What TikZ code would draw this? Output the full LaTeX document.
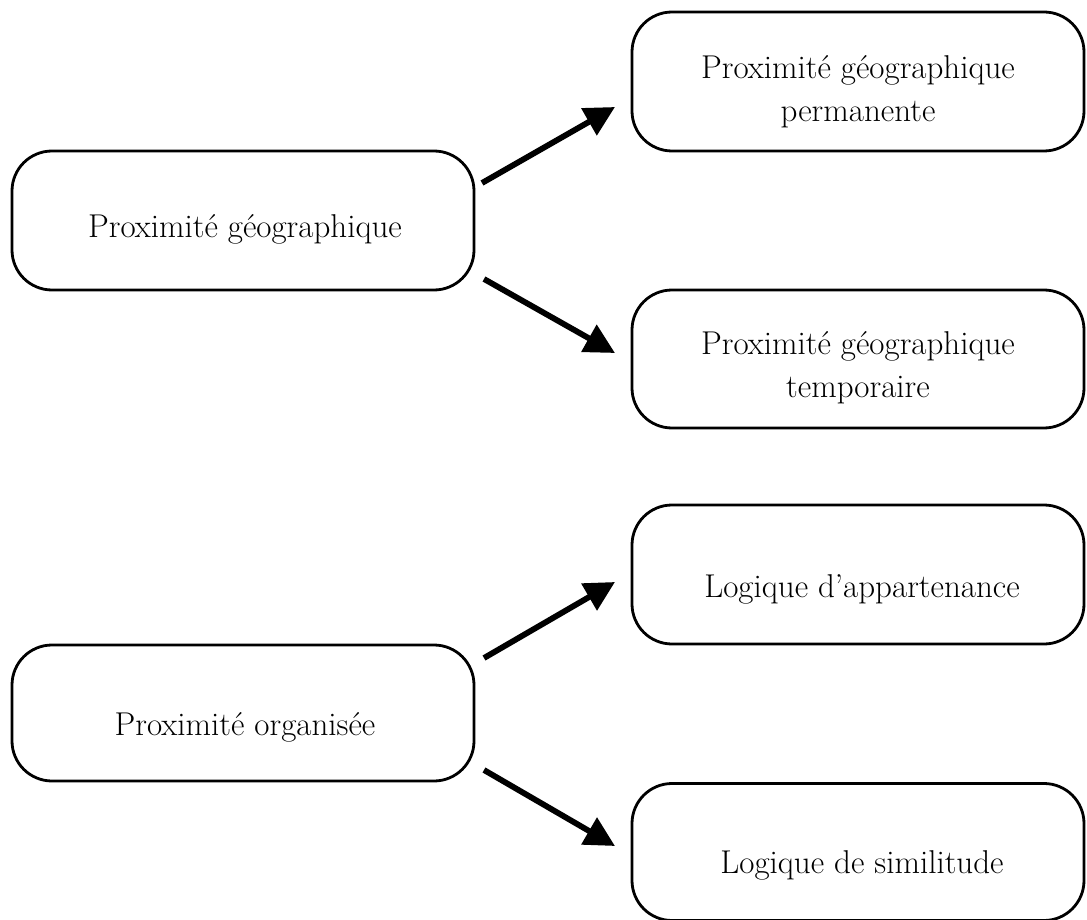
\documentclass[tikz,border=0pt]{standalone}
\usetikzlibrary{arrows.meta}
\begin{document}
\begin{tikzpicture}[x=1pt,y=-1pt,
  box/.style={draw,line width=2.8pt,rounded corners=40pt,inner sep=0pt},
  txt/.style={anchor=base,align=center,inner sep=0pt,font=\fontsize{33}{43}\selectfont},
  arr/.style={line width=5.8pt,-{Triangle[length=30pt,width=30pt]}}]
\useasboundingbox (0,0) rectangle (1087,920);
\node[box,minimum width=462pt,minimum height=139pt] (pg) at (243,220.5) {};
\node[box,minimum width=462pt,minimum height=136pt] (po) at (243,713) {};
\node[box,minimum width=452pt,minimum height=139pt] (pgp) at (858,81.5) {};
\node[box,minimum width=452pt,minimum height=138pt] (pgt) at (858,359) {};
\node[box,minimum width=452pt,minimum height=139pt] (la) at (858,574.5) {};
\node[box,minimum width=452pt,minimum height=137pt] (ls) at (858,852) {};
\node[txt] (tpg) at (245,238) {Proximit\'e g\'eographique};
\node[txt] (tpo) at (245,735) {Proximit\'e organis\'ee};
\node[txt] (tpgp) at (858,122) {Proximit\'e g\'eographique\\permanente};
\node[txt] (tpgt) at (858,397) {Proximit\'e g\'eographique\\temporaire};
\node[txt] (tla) at (862,597) {Logique d'appartenance};
\node[txt] (tls) at (862,873) {Logique de similitude};
\coordinate (a1s) at (482,183); \coordinate (a1e) at (615,107);
\coordinate (a2s) at (484,279); \coordinate (a2e) at (615,353);
\coordinate (a3s) at (484,658); \coordinate (a3e) at (615,582);
\coordinate (a4s) at (484,770); \coordinate (a4e) at (615,846);
\draw[arr] (a1s) -- (a1e);
\draw[arr] (a2s) -- (a2e);
\draw[arr] (a3s) -- (a3e);
\draw[arr] (a4s) -- (a4e);
\end{tikzpicture}
\end{document}
